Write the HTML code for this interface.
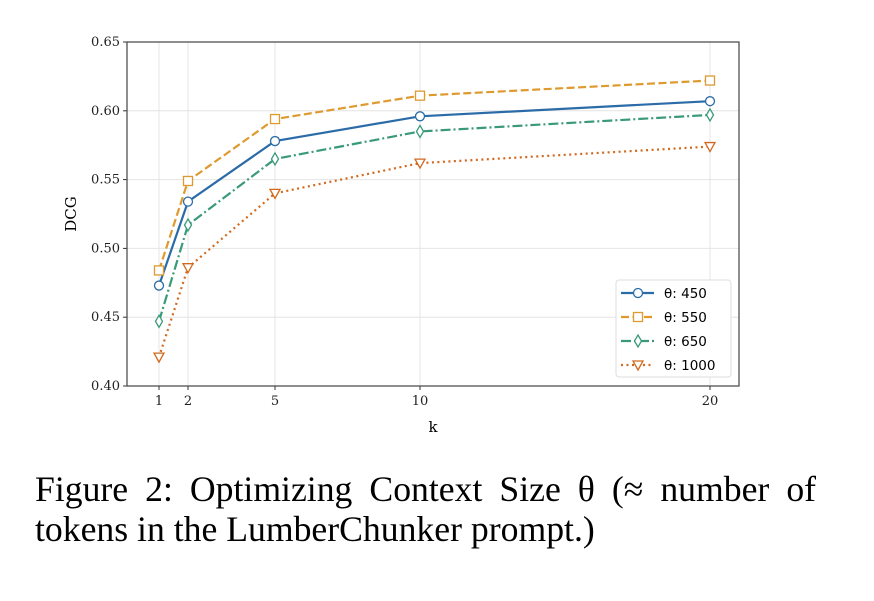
<!DOCTYPE html>
<html><head><meta charset="utf-8"><style>
body{margin:0;background:#fff;width:874px;height:596px;overflow:hidden}
svg text{font-family:"DejaVu Serif","Liberation Serif",serif}
</style></head><body>
<svg id="c" width="874" height="596"></svg>
<script>
const ks=[1,2,5,10,20];
const labels=["θ: 450","θ: 550","θ: 650","θ: 1000"];
const s450=[0.473,0.534,0.578,0.596,0.607];
const s550=[0.484,0.549,0.594,0.611,0.622];
const s650=[0.447,0.517,0.565,0.585,0.597];
const s1000=[0.421,0.486,0.540,0.562,0.574];
const yTicks=[0.40,0.45,0.50,0.55,0.60,0.65];
const xTicks=[1,2,5,10,20];
const NS="http://www.w3.org/2000/svg",svg=document.getElementById('c');
const L=127,R=739,T=42,B=386;
const X=k=>159+(k-1)*(710-159)/19;
const Y=v=>B-(v-0.40)/0.25*(B-T);
function el(t,a,p){const e=document.createElementNS(NS,t);for(const k in a)e.setAttribute(k,a[k]);(p||svg).appendChild(e);return e;}
const g=el('g',{});


yTicks.forEach(v=>{el('line',{x1:L,x2:R,y1:Y(v),y2:Y(v),stroke:'#e4e4e4','stroke-width':1},g);
 const t=el('text',{x:L-7,y:Y(v)+4,'text-anchor':'end','font-size':13,fill:'#222'});t.textContent=v.toFixed(2);
 
 el('line',{x1:L-4,x2:L,y1:Y(v),y2:Y(v),stroke:'#333'});});
xTicks.forEach(k=>{el('line',{x1:X(k),x2:X(k),y1:T,y2:B,stroke:'#e4e4e4'},g);
 el('line',{x1:X(k),x2:X(k),y1:B,y2:B+4,stroke:'#333'});
 const t=el('text',{x:X(k),y:B+19,'text-anchor':'middle','font-size':13,fill:'#222'});t.textContent=k;
 });
const fr=el('rect',{x:L,y:T,width:R-L,height:B-T,fill:'none',stroke:'#444','stroke-width':1.2});

let t=el('text',{x:433,y:432,'text-anchor':'middle','font-size':15});t.textContent='k';

t=el('text',{x:76,y:214,'text-anchor':'middle','font-size':15,transform:'rotate(-90 76 214)'});t.textContent='DCG';

function marker(m,x,y,c,p){
 if(m==='o')return el('circle',{cx:x,cy:y,r:4.5,fill:'#fff',stroke:c,'stroke-width':1.3},p);
 if(m==='s')return el('rect',{x:x-4.5,y:y-4.5,width:9,height:9,fill:'#fff',stroke:c,'stroke-width':1.3},p);
 if(m==='d')return el('polygon',{points:`${x},${y-6} ${x+3.5},${y} ${x},${y+6} ${x-3.5},${y}`,fill:'#fff',stroke:c,'stroke-width':1.3},p);
 return el('polygon',{points:`${x-5},${y-4} ${x+5},${y-4} ${x},${y+5}`,fill:'#fff',stroke:c,'stroke-width':1.3},p);}
const series=[[s450,'#2b6ca8','','o'],[s550,'#de9a2e','8,3.5','s'],[s650,'#3a9a78','10,3,2,3','d'],[s1000,'#d2691e','2,3.5','v']];
series.forEach(([d,c,da,m],i)=>{
 const sg=el('g',{});
 
 
 el('polyline',{points:d.map((v,j)=>X(ks[j])+','+Y(v)).join(' '),fill:'none',stroke:c,'stroke-width':2.2,'stroke-dasharray':da},sg);
 d.forEach((v,j)=>{const mk=marker(m,X(ks[j]),Y(v),c,sg);});
});
const lg=el('g',{});


el('rect',{x:616,y:280,width:115,height:97,rx:3,fill:'#fff',stroke:'#ddd'},lg);
series.forEach(([d,c,da,m],i)=>{const y=293+i*24;
 const eg=el('g',{},lg);
 el('line',{x1:621,x2:654,y1:y,y2:y,stroke:c,'stroke-width':2.2,'stroke-dasharray':da},eg);
 marker(m,638,y,c,eg);
 const tt=el('text',{x:664,y:y+5,'font-size':13.5,style:'font-family:"DejaVu Sans",sans-serif'},eg);tt.textContent=labels[i];});
const c1=el('text',{x:35,y:501,'font-size':35,style:'font-family:"Liberation Serif",serif'});
c1.textContent='Figure 2: Optimizing Context Size θ (≈ number of';

const c2=el('text',{x:35,y:541,'font-size':35,style:'font-family:"Liberation Serif",serif'});
c2.textContent='tokens in the LumberChunker prompt.)';

const w2=c2.getComputedTextLength();
if(w2>0){const f=35*560/w2;c2.setAttribute('font-size',f);c1.setAttribute('font-size',f);}
const w1=c1.getComputedTextLength();
if(w1>0&&w1<781){c1.setAttribute('word-spacing',((781-w1)/8).toFixed(2));}
</script>
</body></html>
